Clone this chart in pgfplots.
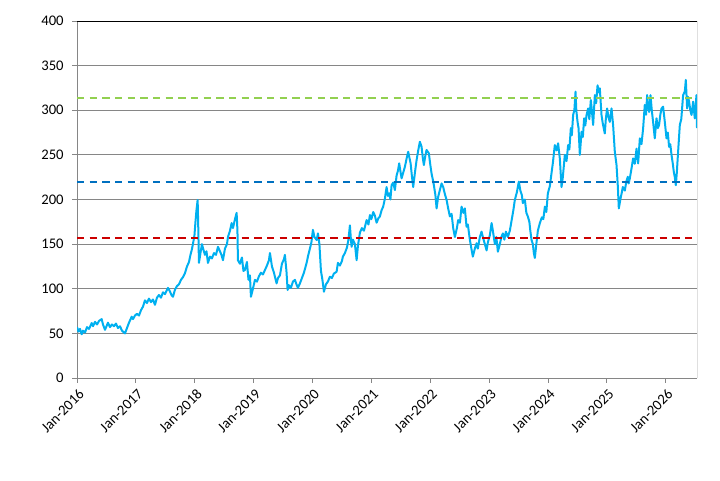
\documentclass[border=0pt]{standalone}
\usepackage{pgfplots}
\pgfplotsset{compat=1.18}
\usepackage{fontspec}
\setmainfont{Carlito}
\definecolor{serieblue}{RGB}{0,176,240}
\definecolor{lgreen}{RGB}{146,208,80}
\definecolor{dblue}{RGB}{0,112,192}
\definecolor{dred}{RGB}{204,0,0}
\definecolor{gridgray}{RGB}{134,134,134}
\begin{document}
\begin{tikzpicture}[x=1pt,y=1pt]
\path[use as bounding box] (0,0) rectangle (540,360);
\begin{axis}[
  at={(57.75pt,76.5pt)}, anchor=south west,
  width=465pt, height=267.75pt, scale only axis,
  xmin=0, xmax=10.53, ymin=0, ymax=400,
  ytick={0,50,...,400},
  xtick={0,1,...,10},
  xticklabels={Jan-2016,Jan-2017,Jan-2018,Jan-2019,Jan-2020,Jan-2021,Jan-2022,Jan-2023,Jan-2024,Jan-2025,Jan-2026},
  ymajorgrids,
  grid style={gridgray, line width=0.75pt},
  axis lines*=left,
  axis line style={gridgray, line width=0.75pt, -},
  tick style={gridgray, line width=0.75pt},
  tick align=outside,
  major tick length=3.5pt,
  ticklabel style={font=\fontsize{11}{13}\selectfont, text=black},
  yticklabel style={xshift=-3pt},
  xticklabel style={rotate=45, anchor=north east, xshift=1pt},
  /pgf/number format/assume math mode=true,
]
\addplot[serieblue, line width=1.5pt, line join=round] coordinates {
(0.000,57) (0.025,52) (0.051,55) (0.080,49) (0.102,53) (0.136,51) (0.170,57) (0.204,55)
(0.250,61.6) (0.272,58) (0.306,63) (0.340,60) (0.374,64) (0.419,66) (0.441,60) (0.475,54)
(0.501,58) (0.526,62) (0.560,57) (0.594,60) (0.628,58) (0.662,61) (0.696,56) (0.730,58)
(0.764,53) (0.815,50) (0.849,56) (0.883,62) (0.929,68.7) (0.951,66) (0.985,70) (1.019,72)
(1.053,70) (1.087,76) (1.121,80) (1.154,87) (1.188,84) (1.222,89) (1.256,85) (1.290,88)
(1.324,82) (1.358,90) (1.392,93) (1.426,90) (1.460,96) (1.494,94) (1.545,101) (1.579,97)
(1.604,93) (1.630,91) (1.664,99) (1.698,103) (1.732,105) (1.766,110) (1.800,113) (1.834,117.6)
(1.868,125) (1.902,130) (1.927,138) (1.947,143) (1.969,150) (1.995,160) (2.012,175) (2.029,188)
(2.049,199.5) (2.059,170) (2.071,129) (2.097,140) (2.122,150) (2.139,145.6) (2.173,138) (2.199,142)
(2.224,129) (2.258,136) (2.292,134) (2.326,140) (2.360,138) (2.394,147) (2.428,142) (2.453,138)
(2.479,132) (2.513,145) (2.547,150) (2.564,158) (2.598,165) (2.626,173.6) (2.649,168) (2.683,178)
(2.711,185) (2.725,165) (2.733,132) (2.767,128) (2.801,135) (2.827,120) (2.852,121) (2.886,130)
(2.912,110) (2.937,115) (2.954,91) (2.988,100) (3.022,110) (3.056,108) (3.090,114) (3.124,118)
(3.158,116) (3.192,121) (3.226,126) (3.260,132) (3.277,140) (3.311,125) (3.345,118) (3.390,106)
(3.413,112) (3.447,115) (3.480,128) (3.514,133) (3.531,138) (3.557,120) (3.577,98.6) (3.599,104)
(3.633,101) (3.667,108) (3.701,110) (3.727,105) (3.752,101) (3.786,106) (3.820,112) (3.854,118)
(3.900,129) (3.922,136) (3.956,145) (3.981,152) (4.007,166) (4.032,158) (4.070,154.6) (4.092,162)
(4.117,150) (4.143,120) (4.168,110) (4.194,96.7) (4.228,105) (4.261,108) (4.295,113.5) (4.329,112)
(4.363,117) (4.409,119) (4.431,129) (4.465,126) (4.499,131) (4.516,136) (4.550,140) (4.584,146)
(4.610,155) (4.635,171) (4.652,155) (4.664,147) (4.686,155) (4.720,150) (4.749,132) (4.771,148)
(4.805,163) (4.839,168) (4.873,165) (4.919,177) (4.950,172) (4.975,182.6) (5.000,178) (5.031,186)
(5.059,182) (5.088,174) (5.119,179) (5.144,181) (5.173,188) (5.200,192) (5.229,201) (5.258,214)
(5.280,204) (5.302,207) (5.323,200) (5.343,216) (5.370,219) (5.399,210.6) (5.428,227) (5.450,232)
(5.472,240.5) (5.492,232) (5.513,223.7) (5.540,230) (5.569,236.7) (5.598,246) (5.625,253.5) (5.645,247)
(5.666,240.5) (5.688,226) (5.710,214) (5.739,230) (5.767,244) (5.795,255) (5.823,264.7) (5.852,259)
(5.874,246) (5.891,238.6) (5.913,248) (5.937,255.5) (5.976,251.7) (5.998,240) (6.022,229) (6.044,222)
(6.061,216) (6.087,205) (6.107,190) (6.134,203) (6.163,210.6) (6.192,218) (6.219,214) (6.248,206)
(6.277,199.5) (6.304,190) (6.333,181) (6.362,184) (6.389,168) (6.418,158) (6.452,168) (6.474,177)
(6.503,174) (6.531,192) (6.562,185) (6.587,190)
(6.616,169.5) (6.638,172) (6.672,155) (6.698,145) (6.723,136) (6.757,145) (6.786,151) (6.808,145)
(6.842,158) (6.871,164) (6.893,158) (6.927,150) (6.956,143) (6.978,152) (7.012,160) (7.041,173.6)
(7.063,165) (7.097,150) (7.122,158) (7.148,141.5) (7.182,150) (7.207,158) (7.233,162) (7.258,155)
(7.284,164) (7.317,158) (7.351,165) (7.385,178) (7.411,188) (7.436,199.5) (7.470,208) (7.504,220)
(7.530,210) (7.555,205) (7.572,196) (7.606,200) (7.632,185) (7.657,181) (7.683,175) (7.699,165)
(7.720,154.6) (7.742,150) (7.759,140) (7.776,134.5) (7.801,150) (7.827,165) (7.861,173.6) (7.895,180)
(7.920,178) (7.946,192) (7.971,186) (7.997,207) (8.031,215) (8.056,228) (8.082,241)
(8.115,261) (8.144,255) (8.171,263) (8.200,246) (8.229,214) (8.251,225) (8.285,250) (8.314,243)
(8.341,261) (8.362,256) (8.387,280) (8.404,272) (8.426,294.7) (8.447,300) (8.467,320.8) (8.480,300)
(8.501,287) (8.518,280) (8.540,250) (8.569,276) (8.591,270) (8.613,291) (8.633,283) (8.654,294.7)
(8.681,302) (8.701,290) (8.727,311.5) (8.744,300) (8.766,283.5) (8.795,317) (8.817,308) (8.841,328)
(8.859,320) (8.879,324.6) (8.908,294.7) (8.930,285) (8.964,274) (8.981,290) (9.003,302) (9.027,292)
(9.049,287) (9.078,302) (9.105,283.5) (9.134,253.5) (9.163,238.6)
(9.185,215) (9.202,190) (9.228,200) (9.253,208) (9.270,214) (9.304,210) (9.329,220) (9.355,225.5) (9.370,218)
(9.389,223.7) (9.418,235) (9.445,246) (9.474,240) (9.503,257) (9.530,240.5) (9.559,268.5) (9.587,262)
(9.615,279.7) (9.643,306) (9.664,295) (9.683,317) (9.700,305) (9.717,298) (9.740,317) (9.762,300)
(9.784,287) (9.813,268.5) (9.842,291) (9.864,280) (9.886,283.5) (9.907,295) (9.927,302) (9.954,304)
(9.983,287) (10.012,268.5) (10.034,275) (10.056,259) (10.076,262) (10.097,250) (10.119,240) (10.136,231)
(10.153,225) (10.170,216) (10.187,230) (10.209,253.5) (10.238,283.5) (10.263,290) (10.294,317) (10.323,321)
(10.340,334) (10.362,302) (10.379,315) (10.396,309.6) (10.416,300) (10.437,294.7) (10.464,309.6) (10.492,291)
(10.521,317) (10.530,280)
};
\addplot[lgreen, line width=1.5pt, dash pattern=on 5.5pt off 4pt] coordinates {(0,314) (10.53,314)};
\addplot[dblue, line width=1.5pt, dash pattern=on 5.5pt off 4pt] coordinates {(0,220) (10.53,220)};
\addplot[dred, line width=1.5pt, dash pattern=on 5.5pt off 4pt] coordinates {(0,157) (10.53,157)};
\draw[black, line width=0.75pt] (rel axis cs:0,1) -- (rel axis cs:1,1) -- (rel axis cs:1,0);
\end{axis}
\end{tikzpicture}
\end{document}
